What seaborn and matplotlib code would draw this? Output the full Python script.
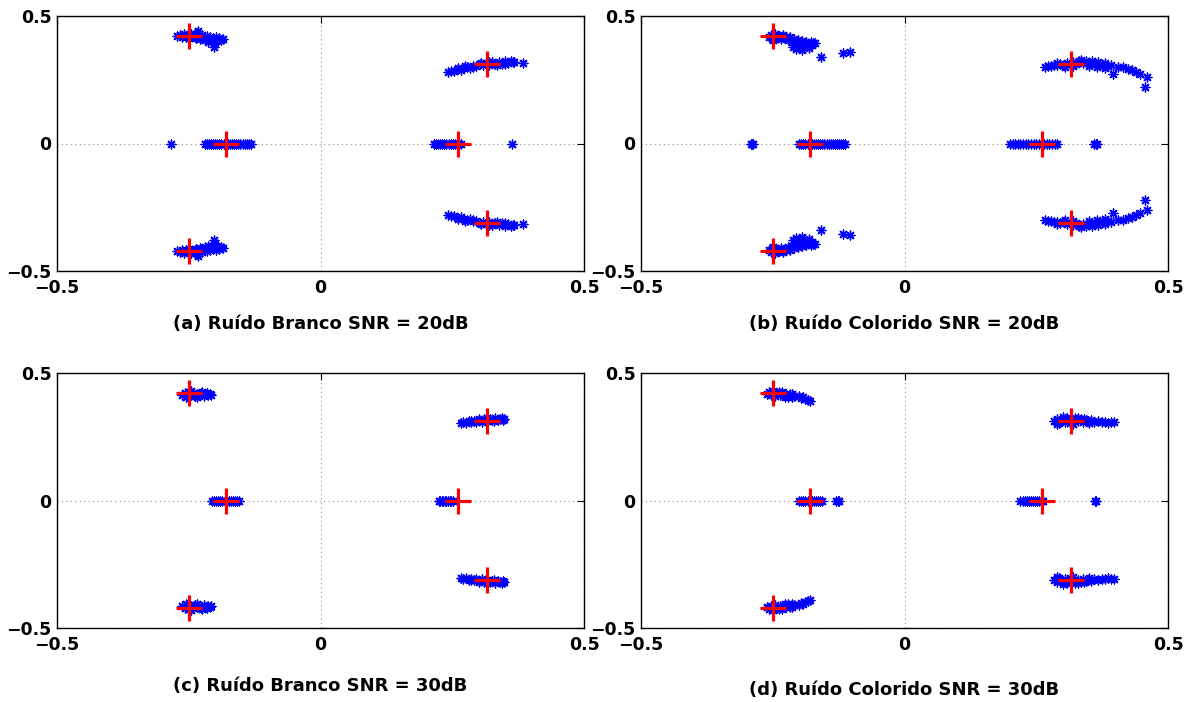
import matplotlib
matplotlib.use("Agg")
import matplotlib.pyplot as plt
import numpy as np
import pandas as pd
import seaborn as sns

# ---------------- data ----------------
# true pole locations (red +)
pole_x = [-0.25, -0.25, -0.18, 0.26, 0.315, 0.315]
pole_y = [0.42, -0.42, 0.0, 0.0, 0.31, -0.31]

tick_vals = [-0.5, 0.0, 0.5]
tick_labels = ["\u22120.5", "0", "0.5"]

captions = ["(a) Ruído Branco SNR = 20dB", "(b) Ruído Colorido SNR = 20dB",
            "(c) Ruído Branco SNR = 30dB", "(d) Ruído Colorido SNR = 30dB"]

# ---- panel (a) ----
a_ul_x = [-0.272, -0.267, -0.263, -0.259, -0.256, -0.252, -0.249, -0.246, -0.243, -0.240, -0.237, -0.234,
          -0.232, -0.228, -0.225, -0.222, -0.219, -0.216, -0.213, -0.210, -0.207, -0.204, -0.203, -0.201,
          -0.198, -0.195, -0.192, -0.189, -0.185, -0.262, -0.250, -0.238, -0.226, -0.214]
a_ul_y = [0.421, 0.426, 0.416, 0.428, 0.419, 0.424, 0.413, 0.430, 0.420, 0.426, 0.414, 0.432,
          0.442, 0.410, 0.427, 0.416, 0.405, 0.423, 0.411, 0.419, 0.401, 0.413, 0.380, 0.392,
          0.416, 0.404, 0.412, 0.407, 0.410, 0.422, 0.418, 0.417, 0.415, 0.400]
a_ll_y = [-0.421, -0.426, -0.416, -0.428, -0.419, -0.424, -0.413, -0.430, -0.420, -0.426, -0.414, -0.432,
          -0.442, -0.410, -0.427, -0.416, -0.405, -0.423, -0.411, -0.419, -0.401, -0.413, -0.380, -0.392,
          -0.416, -0.404, -0.412, -0.407, -0.410, -0.422, -0.418, -0.417, -0.415, -0.400]
a_cl_x = [-0.283, -0.220, -0.216, -0.212, -0.208, -0.204, -0.200, -0.196, -0.192, -0.188, -0.184, -0.180,
          -0.176, -0.172, -0.168, -0.164, -0.160, -0.156, -0.152, -0.148, -0.144, -0.140, -0.136, -0.132]
a_cr_x = [0.215, 0.219, 0.223, 0.227, 0.231, 0.235, 0.239, 0.243, 0.247, 0.251, 0.255, 0.259, 0.263,
          0.267, 0.364]
a_ur_x = [0.242, 0.248, 0.254, 0.260, 0.266, 0.272, 0.278, 0.284, 0.290, 0.296, 0.302, 0.308, 0.314,
          0.320, 0.326, 0.332, 0.338, 0.344, 0.350, 0.356, 0.362, 0.368, 0.384,
          0.260, 0.275, 0.290, 0.305, 0.320, 0.335, 0.350, 0.365]
a_ur_y = [0.281, 0.286, 0.284, 0.292, 0.289, 0.296, 0.300, 0.297, 0.305, 0.302, 0.310, 0.306, 0.316,
          0.309, 0.319, 0.312, 0.321, 0.313, 0.322, 0.315, 0.323, 0.318, 0.316,
          0.295, 0.303, 0.299, 0.314, 0.318, 0.308, 0.313, 0.321]
a_lr_y = [-0.281, -0.286, -0.284, -0.292, -0.289, -0.296, -0.300, -0.297, -0.305, -0.302, -0.310, -0.306, -0.316,
          -0.309, -0.319, -0.312, -0.321, -0.313, -0.322, -0.315, -0.323, -0.318, -0.316,
          -0.295, -0.303, -0.299, -0.314, -0.318, -0.308, -0.313, -0.321]

# ---- panel (b) ----
b_ul_x = [-0.258, -0.254, -0.250, -0.246, -0.242, -0.238, -0.234, -0.230, -0.226, -0.222, -0.218, -0.214,
          -0.210, -0.206, -0.202, -0.198, -0.194, -0.190, -0.186, -0.182, -0.178, -0.174, -0.170,
          -0.250, -0.240, -0.230, -0.220, -0.212, -0.206, -0.200, -0.194, -0.188, -0.182, -0.176,
          -0.158, -0.117, -0.103]
b_ul_y = [0.418, 0.425, 0.412, 0.428, 0.416, 0.423, 0.410, 0.420, 0.414, 0.405, 0.418, 0.400,
          0.411, 0.396, 0.404, 0.392, 0.403, 0.395, 0.399, 0.391, 0.397, 0.393, 0.396,
          0.405, 0.418, 0.426, 0.412, 0.380, 0.372, 0.378, 0.368, 0.385, 0.376, 0.385,
          0.340, 0.354, 0.360]
b_ll_y = [-0.418, -0.425, -0.412, -0.428, -0.416, -0.423, -0.410, -0.420, -0.414, -0.405, -0.418, -0.400,
          -0.411, -0.396, -0.404, -0.392, -0.403, -0.395, -0.399, -0.391, -0.397, -0.393, -0.396,
          -0.405, -0.418, -0.426, -0.412, -0.380, -0.372, -0.378, -0.368, -0.385, -0.376, -0.385,
          -0.340, -0.354, -0.360]
b_cl_x = [-0.291, -0.289, -0.287, -0.200, -0.196, -0.192, -0.188, -0.184, -0.180, -0.176, -0.172, -0.168,
          -0.164, -0.160, -0.156, -0.152, -0.148, -0.144, -0.140, -0.136, -0.132, -0.128, -0.124,
          -0.120, -0.116, -0.112]
b_cr_x = [0.200, 0.205, 0.210, 0.215, 0.220, 0.225, 0.230, 0.235, 0.240, 0.245, 0.250, 0.255, 0.260,
          0.265, 0.270, 0.275, 0.280, 0.285, 0.290, 0.360, 0.363, 0.366]
b_ur_x = [0.267, 0.272, 0.278, 0.284, 0.290, 0.296, 0.302, 0.308, 0.314, 0.320, 0.326, 0.332, 0.338,
          0.344, 0.350, 0.356, 0.362, 0.368, 0.374, 0.380, 0.386, 0.392,
          0.290, 0.305, 0.320, 0.335, 0.350, 0.365, 0.380,
          0.396, 0.405, 0.415, 0.425, 0.431, 0.440, 0.447, 0.461, 0.456]
b_ur_y = [0.301, 0.305, 0.303, 0.309, 0.306, 0.312, 0.308, 0.316, 0.311, 0.318, 0.313, 0.322, 0.314,
          0.324, 0.316, 0.322, 0.312, 0.318, 0.308, 0.314, 0.305, 0.309,
          0.316, 0.300, 0.303, 0.328, 0.302, 0.300, 0.296,
          0.271, 0.300, 0.300, 0.292, 0.288, 0.280, 0.271, 0.262, 0.220]
b_lr_y = [-0.301, -0.305, -0.303, -0.309, -0.306, -0.312, -0.308, -0.316, -0.311, -0.318, -0.313, -0.322, -0.314,
          -0.324, -0.316, -0.322, -0.312, -0.318, -0.308, -0.314, -0.305, -0.309,
          -0.316, -0.300, -0.303, -0.328, -0.302, -0.300, -0.296,
          -0.271, -0.300, -0.300, -0.292, -0.288, -0.280, -0.271, -0.262, -0.220]

# ---- panel (c) ----
c_ul_x = [-0.262, -0.258, -0.254, -0.250, -0.246, -0.242, -0.238, -0.234, -0.230, -0.226, -0.222, -0.218,
          -0.214, -0.210, -0.207, -0.255, -0.245, -0.235, -0.225, -0.215]
c_ul_y = [0.414, 0.420, 0.410, 0.424, 0.413, 0.421, 0.409, 0.419, 0.412, 0.422, 0.410, 0.418,
          0.413, 0.416, 0.412, 0.405, 0.428, 0.404, 0.426, 0.422]
c_ll_y = [-0.414, -0.420, -0.410, -0.424, -0.413, -0.421, -0.409, -0.419, -0.412, -0.422, -0.410, -0.418,
          -0.413, -0.416, -0.412, -0.405, -0.428, -0.404, -0.426, -0.422]
c_cl_x = [-0.206, -0.202, -0.198, -0.194, -0.190, -0.186, -0.182, -0.178, -0.174, -0.170, -0.166, -0.162,
          -0.158, -0.155]
c_cr_x = [0.224, 0.227, 0.230, 0.233, 0.236, 0.239, 0.242, 0.245, 0.248, 0.252]
c_ur_x = [0.266, 0.271, 0.276, 0.281, 0.286, 0.291, 0.296, 0.301, 0.306, 0.311, 0.316, 0.321, 0.326,
          0.331, 0.336, 0.341, 0.346, 0.349, 0.285, 0.300, 0.315, 0.330, 0.345]
c_ur_y = [0.304, 0.308, 0.302, 0.310, 0.306, 0.313, 0.308, 0.316, 0.309, 0.318, 0.312, 0.320, 0.314,
          0.322, 0.315, 0.321, 0.317, 0.319, 0.312, 0.319, 0.322, 0.310, 0.324]
c_lr_y = [-0.304, -0.308, -0.302, -0.310, -0.306, -0.313, -0.308, -0.316, -0.309, -0.318, -0.312, -0.320, -0.314,
          -0.322, -0.315, -0.321, -0.317, -0.319, -0.312, -0.319, -0.322, -0.310, -0.324]

# ---- panel (d) ----
d_ul_x = [-0.261, -0.257, -0.253, -0.249, -0.245, -0.241, -0.237, -0.233, -0.229, -0.225, -0.221, -0.217,
          -0.213, -0.209, -0.200, -0.196, -0.192, -0.188, -0.184, -0.180, -0.250, -0.238, -0.226, -0.214]
d_ul_y = [0.418, 0.424, 0.414, 0.422, 0.411, 0.420, 0.415, 0.424, 0.412, 0.418, 0.407, 0.416,
          0.404, 0.410, 0.410, 0.402, 0.406, 0.398, 0.395, 0.389, 0.428, 0.426, 0.405, 0.418]
d_ll_y = [-0.418, -0.424, -0.414, -0.422, -0.411, -0.420, -0.415, -0.424, -0.412, -0.418, -0.407, -0.416,
          -0.404, -0.410, -0.410, -0.402, -0.406, -0.398, -0.395, -0.389, -0.428, -0.426, -0.405, -0.418]
d_cl_x = [-0.200, -0.196, -0.192, -0.188, -0.184, -0.180, -0.176, -0.172, -0.168, -0.164, -0.160, -0.157,
          -0.130, -0.127, -0.124]
d_cr_x = [0.220, 0.224, 0.228, 0.232, 0.236, 0.240, 0.244, 0.248, 0.252, 0.256, 0.260, 0.263, 0.361, 0.364]
d_ur_x = [0.284, 0.289, 0.294, 0.299, 0.304, 0.309, 0.314, 0.319, 0.324, 0.329, 0.334, 0.339, 0.344,
          0.349, 0.354, 0.359, 0.290, 0.300, 0.310, 0.320, 0.330, 0.340, 0.350,
          0.368, 0.374, 0.380, 0.386, 0.392, 0.398]
d_ur_y = [0.312, 0.320, 0.305, 0.317, 0.309, 0.322, 0.303, 0.315, 0.324, 0.310, 0.318, 0.306, 0.316,
          0.311, 0.314, 0.308, 0.300, 0.326, 0.314, 0.300, 0.325, 0.320, 0.304,
          0.310, 0.306, 0.309, 0.305, 0.308, 0.306]
d_lr_y = [-0.312, -0.320, -0.305, -0.317, -0.309, -0.322, -0.303, -0.315, -0.324, -0.310, -0.318, -0.306, -0.316,
          -0.311, -0.314, -0.308, -0.300, -0.326, -0.314, -0.300, -0.325, -0.320, -0.304,
          -0.310, -0.306, -0.309, -0.305, -0.308, -0.306]


def panel_frame(ul_x, ul_y, ll_y, cl_x, cr_x, ur_x, ur_y, lr_y):
    xs = list(ul_x) + list(ul_x) + list(cl_x) + list(cr_x) + list(ur_x) + list(ur_x)
    ys = (list(ul_y) + list(ll_y) + [0.0] * len(cl_x) + [0.0] * len(cr_x)
          + list(ur_y) + list(lr_y))
    return pd.DataFrame({"x": xs, "y": ys})


frames = [
    panel_frame(a_ul_x, a_ul_y, a_ll_y, a_cl_x, a_cr_x, a_ur_x, a_ur_y, a_lr_y),
    panel_frame(b_ul_x, b_ul_y, b_ll_y, b_cl_x, b_cr_x, b_ur_x, b_ur_y, b_lr_y),
    panel_frame(c_ul_x, c_ul_y, c_ll_y, c_cl_x, c_cr_x, c_ur_x, c_ur_y, c_lr_y),
    panel_frame(d_ul_x, d_ul_y, d_ll_y, d_cl_x, d_cr_x, d_ur_x, d_ur_y, d_lr_y),
]
poles = pd.DataFrame({"x": pole_x, "y": pole_y})

# ---------------- style ----------------
sns.set_style("white")
plt.rcParams["font.family"] = ["DejaVu Sans"]
plt.rcParams["font.weight"] = "bold"
plt.rcParams["axes.unicode_minus"] = True
for key in ["text.color", "axes.labelcolor", "xtick.color", "ytick.color", "axes.edgecolor"]:
    plt.rcParams[key] = "black"

FW, FH = 1195, 702
fig = plt.figure(figsize=(FW / 100, FH / 100), dpi=100)
fig.patch.set_facecolor("white")

W, H = 527, 255
boxes = [(57, 16), (641, 16), (57, 373), (641, 373)]
labelpads = [13, 13, 16, 19]

for i, (left, top) in enumerate(boxes):
    ax = fig.add_axes([left / FW, 1 - (top + H) / FH, W / FW, H / FH])
    ax.set_facecolor("white")
    ax.grid(True, linestyle=(0, (1, 3)), color="#8c8c8c", linewidth=0.8)
    ax.set_axisbelow(True)
    sns.scatterplot(data=frames[i], x="x", y="y", marker=(8, 2, 0), color="blue",
                    s=40, linewidth=1.0, ax=ax, zorder=3, legend=False)
    sns.scatterplot(data=poles, x="x", y="y", marker="+", color="red",
                    s=370, linewidth=2.3, ax=ax, zorder=4, legend=False)
    ax.set_xlim(-0.5, 0.5)
    ax.set_ylim(-0.5, 0.5)
    ax.set_xticks(tick_vals)
    ax.set_yticks(tick_vals)
    ax.set_xticklabels(tick_labels, fontsize=12.5, fontweight="bold")
    ax.set_yticklabels(tick_labels, fontsize=12.5, fontweight="bold")
    ax.tick_params(axis="both", direction="in", length=5, width=0.8, colors="black",
                   top=True, right=True)
    ax.tick_params(axis="x", pad=6)
    ax.tick_params(axis="y", pad=4)
    for sp in ax.spines.values():
        sp.set_visible(True)
        sp.set_color("black")
        sp.set_linewidth(1.0)
    ax.set_ylabel("")
    ax.set_xlabel(captions[i], fontsize=13, fontweight="bold", labelpad=labelpads[i])

fig.savefig("out.png", dpi=100, facecolor="white")
